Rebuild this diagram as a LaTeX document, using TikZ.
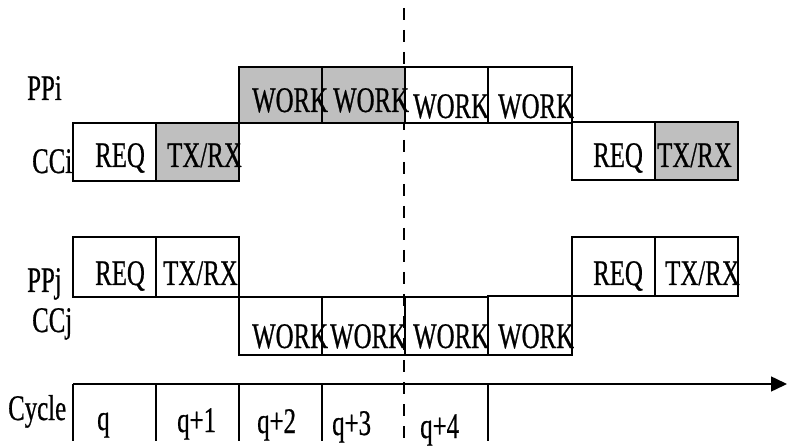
\documentclass[tikz,border=0pt]{standalone}
\usepackage{fontspec}
\setmainfont{Liberation Serif}[FakeStretch=0.69,FakeBold=0.6]
\usetikzlibrary{arrows.meta,fit}
\begin{document}
\begin{tikzpicture}[x=1pt,y=-1pt,
  cell/.style={draw,line width=1.5pt,inner sep=0pt},
  shaded/.style={cell,fill=black!25},
  txt/.style={anchor=base west,inner sep=0pt,font=\fontsize{36}{36}\selectfont},
  tick/.style={line width=1.5pt},
  guide/.style={line width=1.2pt,dash pattern=on 12pt off 10pt}]
\useasboundingbox (0,0) rectangle (787,446);
% dashed guide
\coordinate (gtop) at (404,8);
\coordinate (gbot) at (404,446);
\draw[guide] (gtop) -- (gbot);
% PPi row
\node[shaded,fit={(239,67)(322,123)}] (ppi3) {};
\node[shaded,fit={(322,67)(405,123)}] (ppi4) {};
\node[cell,fit={(405,67)(488,123)}] (ppi5) {};
\node[cell,fit={(488,67)(572,123)}] (ppi6) {};
% CCi row
\node[cell,fit={(73,123)(156,181)}] (cci1) {};
\node[shaded,fit={(156,123)(239,181)}] (cci2) {};
\node[cell,fit={(572,122)(655,180)}] (cci7) {};
\node[shaded,fit={(655,122)(738,180)}] (cci8) {};
% PPj row
\node[cell,fit={(73,237)(156,297)}] (ppj1) {};
\node[cell,fit={(156,237)(239,297)}] (ppj2) {};
\node[cell,fit={(572,237)(655,296)}] (ppj7) {};
\node[cell,fit={(655,237)(738,296)}] (ppj8) {};
% CCj row
\node[cell,fit={(239,297)(322,355)}] (ccj3) {};
\node[cell,fit={(322,297)(405,355)}] (ccj4) {};
\node[cell,fit={(405,297)(488,355)}] (ccj5) {};
\node[cell,fit={(488,296)(572,355)}] (ccj6) {};
% row labels
\node[txt] (lppi) at (27,100) {PPi};
\node[txt] (lcci) at (32,173) {CCi};
\node[txt] (lppj) at (27,292) {PPj};
\node[txt] (lccj) at (32,332) {CCj};
\node[txt] (lcyc) at (8,420) {Cycle};
% box texts
\node[txt] (tppi3) at (252,112) {WORK};
\node[txt] (tppi4) at (333,112) {WORK};
\node[txt] (tppi5) at (413,118) {WORK};
\node[txt] (tppi6) at (498,118) {WORK};
\node[txt] (tcci1) at (95,167) {REQ};
\node[txt] (tcci2) at (167,167) {TX/RX};
\node[txt] (tcci7) at (593,167) {REQ};
\node[txt] (tcci8) at (657,167) {TX/RX};
\node[txt] (tppj1) at (95,285) {REQ};
\node[txt] (tppj2) at (163,285) {TX/RX};
\node[txt] (tppj7) at (593,285) {REQ};
\node[txt] (tppj8) at (665,285) {TX/RX};
\node[txt] (tccj3) at (252,348) {WORK};
\node[txt] (tccj4) at (330,348) {WORK};
\node[txt] (tccj5) at (413,348) {WORK};
\node[txt] (tccj6) at (498,348) {WORK};
% cycle axis
\coordinate (ax0) at (73,384);
\coordinate (ax1) at (787,384);
\draw[tick,-{Triangle[length=16pt,width=15pt]}] (ax0) -- (ax1);
\coordinate (k0) at (73,441);
\coordinate (t1a) at (156,384); \coordinate (t1b) at (156,441);
\coordinate (t2a) at (239,384); \coordinate (t2b) at (239,441);
\coordinate (t3a) at (322,384); \coordinate (t3b) at (322,441);
\coordinate (t5a) at (488,384); \coordinate (t5b) at (488,441);
\draw[tick] (ax0) -- (k0);
\draw[tick] (t1a) -- (t1b);
\draw[tick] (t2a) -- (t2b);
\draw[tick] (t3a) -- (t3b);
\draw[tick] (t5a) -- (t5b);
\node[txt] (cq0) at (97,430) {q};
\node[txt] (cq1) at (177,432) {q+1};
\node[txt] (cq2) at (257,433) {q+2};
\node[txt] (cq3) at (332,435) {q+3};
\node[txt] (cq4) at (420,438) {q+4};
\end{tikzpicture}
\end{document}
